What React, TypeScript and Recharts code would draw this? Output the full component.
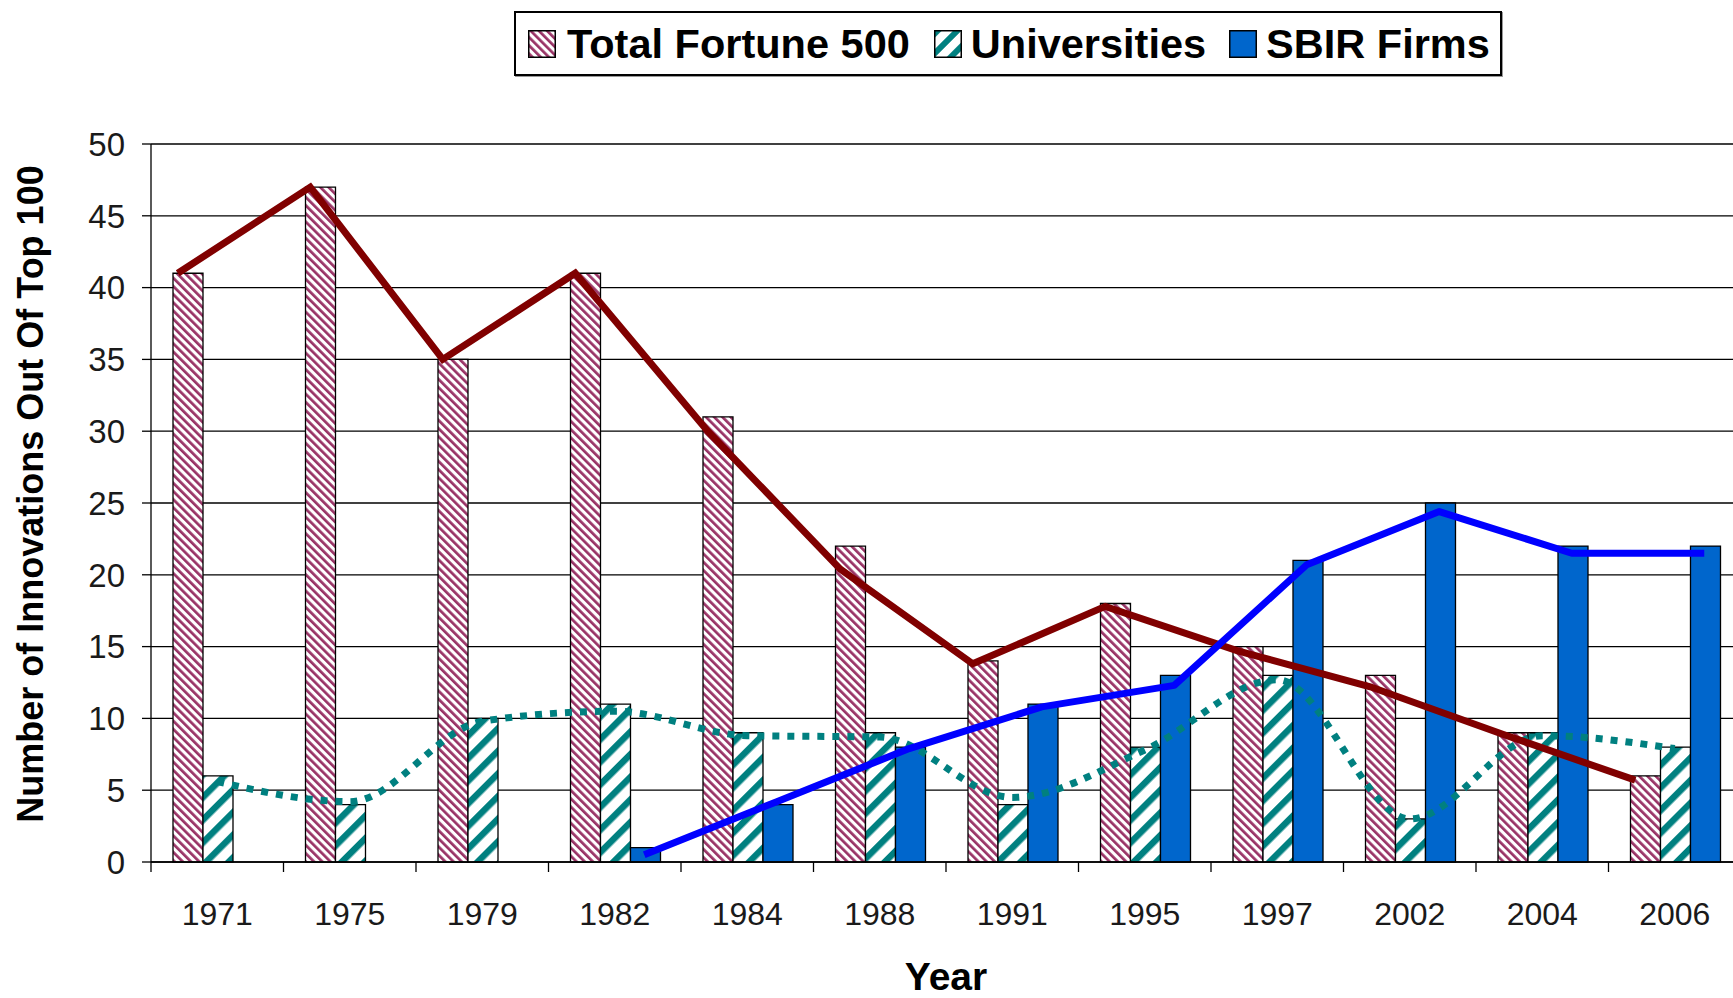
import { ComposedChart, Bar, Line, XAxis, YAxis, CartesianGrid } from 'recharts';

const YEARS = ['1971', '1975', '1979', '1982', '1984', '1988', '1991', '1995', '1997', '2002', '2004', '2006'];
const FORTUNE = [41, 47, 35, 41, 31, 22, 14, 18, 15, 13, 9, 6];
const UNIVERSITIES = [6, 4, 10, 11, 9, 9, 4, 8, 13, 3, 9, 8];
const SBIR = [null, null, null, 1, 4, 8, 11, 13, 21, 25, 22, 22];
const FORTUNE_TREND = [41, 47, 35, 41, 30, 20.4, 13.8, 17.8, 14.7, 12.2, 8.9, 5.7];
const UNIV_TREND = [5.6, 4.2, 9.8, 10.5, 8.8, 8.7, 4.5, 7.8, 12.7, 3.0, 8.8, 7.9];
const SBIR_TREND = [null, null, null, 0.5, 4.2, 7.9, 10.8, 12.3, 20.7, 24.4, 21.5, 21.5];
const Y_TICKS = [0, 5, 10, 15, 20, 25, 30, 35, 40, 45, 50];

const data = YEARS.map((year, i) => ({
  year,
  fortune: FORTUNE[i],
  universities: UNIVERSITIES[i],
  sbir: SBIR[i],
  fortuneTrend: FORTUNE_TREND[i],
  univTrend: UNIV_TREND[i],
  sbirTrend: SBIR_TREND[i],
}));

const FONT = '"Liberation Sans", Arial, sans-serif';
const PINK = '#993366';
const TEAL = '#008080';
const BLUE_BAR = '#0066CC';

const CHART_W = 1760;
const CHART_H = 998;
const Y_AXIS_W = 151;
const MARGIN_RIGHT = 19;
const PLOT_W = CHART_W - Y_AXIS_W - MARGIN_RIGHT;
const BAND = PLOT_W / YEARS.length;

const XTick = (props: any) => {
  const { x, y, payload } = props;
  return (
    <g>
      <line x1={x - BAND / 2} y1={y - 10} x2={x - BAND / 2} y2={y} stroke="#000" strokeWidth={1.3} />
      <text x={x} y={y + 53} textAnchor="middle" fontSize={32} fontFamily={FONT} fill="#1a1a1a">
        {payload.value}
      </text>
    </g>
  );
};

const Patterns = () => (
  <defs>
    <pattern id="pinkHatch" width="5.8" height="5.8" patternUnits="userSpaceOnUse" patternTransform="rotate(-45)">
      <rect width="5.8" height="5.8" fill="#fff" />
      <rect width="2.7" height="5.8" fill={PINK} />
    </pattern>
    <pattern id="tealHatch" width="16" height="16" patternUnits="userSpaceOnUse" patternTransform="rotate(45)">
      <rect width="16" height="16" fill="#fff" />
      <rect width="6.5" height="16" fill={TEAL} />
    </pattern>
  </defs>
);

const Swatch = ({ kind }: { kind: 'pink' | 'teal' | 'blue' }) => (
  <svg width={28} height={28} style={{ display: 'block', flex: 'none' }}>
    <defs>
      <pattern id={`sw-${kind}`} width={kind === 'pink' ? 5.8 : 14} height={kind === 'pink' ? 5.8 : 14}
        patternUnits="userSpaceOnUse" patternTransform={kind === 'pink' ? 'rotate(-45)' : 'rotate(45)'}>
        <rect width="16" height="16" fill="#fff" />
        <rect width={kind === 'pink' ? 2.7 : 6} height="16" fill={kind === 'pink' ? PINK : TEAL} />
      </pattern>
    </defs>
    <rect x={0.75} y={0.75} width={26.5} height={26.5}
      fill={kind === 'blue' ? BLUE_BAR : `url(#sw-${kind})`} stroke="#000" strokeWidth={1.5} />
  </svg>
);

const legendText = { fontFamily: FONT, fontWeight: 'bold' as const, fontSize: 41.5, color: '#000', lineHeight: 1 };

const ChartLegend = () => (
  <div style={{
    position: 'absolute', left: 514, top: 11, width: 984, height: 61,
    border: '2px solid #000', boxShadow: '1px 1px 0 #999', background: '#fff',
    display: 'flex', alignItems: 'center', boxSizing: 'content-box',
  }}>
    <div style={{ width: 12 }} />
    <Swatch kind="pink" />
    <span style={{ ...legendText, marginLeft: 11 }}>Total Fortune 500</span>
    <div style={{ width: 24 }} />
    <Swatch kind="teal" />
    <span style={{ ...legendText, marginLeft: 9 }}>Universities</span>
    <div style={{ width: 23 }} />
    <Swatch kind="blue" />
    <span style={{ ...legendText, marginLeft: 9 }}>SBIR Firms</span>
  </div>
);

export default function App() {
  return (
    <div style={{ position: 'fixed', left: 0, top: 0, width: 1733, height: 998, overflow: 'hidden', background: '#fff' }}>
      <ComposedChart
        width={CHART_W}
        height={CHART_H}
        data={data}
        margin={{ top: 144, right: MARGIN_RIGHT, bottom: 0, left: 0 }}
        barCategoryGap="16.6%"
        barGap={0}
      >
        <Patterns />
        <CartesianGrid vertical={false} stroke="#000" strokeWidth={1.3} />
        <XAxis
          dataKey="year"
          interval={0}
          height={136}
          tickLine={false}
          tickSize={10}
          tickMargin={0}
          axisLine={{ stroke: '#000', strokeWidth: 1.3 }}
          tick={(p: any) => <XTick {...p} />}
          label={(p: any) => {
            const vb = p.viewBox;
            return (
              <text x={vb.x + vb.width / 2} y={vb.y + vb.height - 8} textAnchor="middle"
                fontSize={39} fontWeight="bold" fontFamily={FONT} fill="#000">Year</text>
            );
          }}
        />
        <XAxis xAxisId="red" dataKey="year" scale="point" padding={{ left: BAND / 2 - 39.5, right: BAND / 2 + 39.5 }} hide />
        <XAxis xAxisId="blue" dataKey="year" scale="point" padding={{ left: BAND / 2 + 29.5, right: BAND / 2 - 29.5 }} hide />
        <YAxis
          width={Y_AXIS_W}
          domain={[0, 50]}
          ticks={Y_TICKS}
          interval={0}
          tickSize={9}
          tickMargin={17}
          axisLine={{ stroke: '#000', strokeWidth: 1.3 }}
          tickLine={{ stroke: '#000', strokeWidth: 1.3 }}
          tick={{ fontSize: 33, fontFamily: FONT, fill: '#1a1a1a' }}
          label={(p: any) => {
            const vb = p.viewBox;
            const cx = vb.x + 43;
            const cy = vb.y + vb.height / 2 - 9;
            return (
              <text x={cx} y={cy} transform={`rotate(-90, ${cx}, ${cy})`} textAnchor="middle"
                fontSize={36} fontWeight="bold" fontFamily={FONT} fill="#000">
                Number of Innovations Out Of Top 100
              </text>
            );
          }}
        />
        <Bar dataKey="fortune" fill="url(#pinkHatch)" stroke="#000" strokeWidth={1.3} isAnimationActive={false} />
        <Bar dataKey="universities" fill="url(#tealHatch)" stroke="#000" strokeWidth={1.3} isAnimationActive={false} />
        <Bar dataKey="sbir" fill={BLUE_BAR} stroke="#000" strokeWidth={1.3} isAnimationActive={false} />
        <Line dataKey="univTrend" type="monotone" stroke={TEAL} strokeWidth={7} strokeDasharray="7 8"
          dot={false} activeDot={false} isAnimationActive={false} />
        <Line xAxisId="red" dataKey="fortuneTrend" type="linear" stroke="#800000" strokeWidth={7}
          dot={false} activeDot={false} isAnimationActive={false} />
        <Line xAxisId="blue" dataKey="sbirTrend" type="linear" stroke="#0000FF" strokeWidth={7}
          strokeLinejoin="round" dot={false} activeDot={false} isAnimationActive={false} />
      </ComposedChart>
      <ChartLegend />
    </div>
  );
}
